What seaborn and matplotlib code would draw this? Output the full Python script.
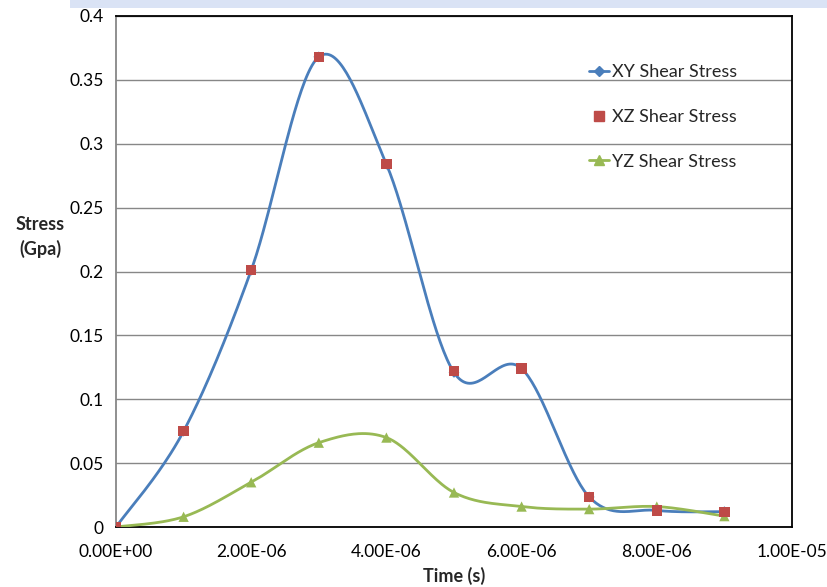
import numpy as np
import pandas as pd
import matplotlib
matplotlib.use("Agg")
import matplotlib.pyplot as plt
from matplotlib.lines import Line2D
from matplotlib.patches import Rectangle
from matplotlib.ticker import FuncFormatter, MultipleLocator
import seaborn as sns

# ---- data ----
time_s = [0.0, 1e-6, 2e-6, 3e-6, 4e-6, 5e-6, 6e-6, 7e-6, 8e-6, 9e-6]
xy_stress = [0.0, 0.075, 0.201, 0.368, 0.284, 0.121, 0.124, 0.0235, 0.013, 0.012]
xz_stress = [0.0, 0.075, 0.201, 0.368, 0.284, 0.122, 0.124, 0.0235, 0.013, 0.0115]
yz_stress = [0.0, 0.008, 0.035, 0.066, 0.070, 0.027, 0.016, 0.014, 0.016, 0.0085]
series_names = ["XY Shear Stress", "XZ Shear Stress", "YZ Shear Stress"]
colors = {"XY Shear Stress": "#4A7EBB", "XZ Shear Stress": "#BE4B48", "YZ Shear Stress": "#98B954"}


def smooth(xs, ys, n=40):
    """Excel-like smoothed line (Catmull-Rom Bezier) through the data points."""
    x = np.asarray(xs, float) * 1e6
    y = np.asarray(ys, float) * 10
    px = np.concatenate([[x[0]], x, [x[-1]]])
    py = np.concatenate([[y[0]], y, [y[-1]]])
    outx, outy = [], []
    t = np.linspace(0, 1, n)
    for i in range(1, len(px) - 2):
        p0 = np.array([px[i], py[i]])
        p3 = np.array([px[i + 1], py[i + 1]])
        c1 = p0 + (np.array([px[i + 1], py[i + 1]]) - np.array([px[i - 1], py[i - 1]])) / 6
        c2 = p3 - (np.array([px[i + 2], py[i + 2]]) - np.array([px[i], py[i]])) / 6
        b = ((1 - t) ** 3)[:, None] * p0 + (3 * (1 - t) ** 2 * t)[:, None] * c1 \
            + (3 * (1 - t) * t ** 2)[:, None] * c2 + (t ** 3)[:, None] * p3
        outx.extend(b[:, 0]); outy.extend(b[:, 1])
    return np.array(outx) / 1e6, np.array(outy) / 10


sns.set_style("white")
plt.rcParams["font.family"] = ["Lato", "DejaVu Sans"]

fig = plt.figure(figsize=(8.27, 5.87), dpi=100)
fig.add_artist(Rectangle((70 / 827, 1 - 8 / 587), 1, 8 / 587, transform=fig.transFigure,
                         color="#DAE3F5", lw=0, zorder=0))
ax = fig.add_axes([116 / 827, 1 - 527 / 587, (792 - 116) / 827, (527 - 16) / 587])

# smooth curves
sx, sy = smooth(time_s, xy_stress)
sns.lineplot(x=sx, y=sy, ax=ax, color=colors["XY Shear Stress"], lw=2, sort=False,
             estimator=None, zorder=3)
gx, gy = smooth(time_s, yz_stress)
sns.lineplot(x=gx, y=gy, ax=ax, color=colors["YZ Shear Stress"], lw=2, sort=False,
             estimator=None, zorder=3)

# markers
sns.scatterplot(x=time_s, y=xy_stress, ax=ax, marker="D", s=30, color=colors["XY Shear Stress"],
                edgecolor="none", zorder=4)
sns.scatterplot(x=time_s, y=yz_stress, ax=ax, marker="^", s=55, color=colors["YZ Shear Stress"],
                edgecolor="none", zorder=4)
sns.scatterplot(x=time_s, y=xz_stress, ax=ax, marker="s", s=55, color=colors["XZ Shear Stress"],
                edgecolor="none", zorder=5)

ax.set_xlim(0, 1e-5)
ax.set_ylim(0, 0.4)
ax.xaxis.set_major_locator(MultipleLocator(2e-6))
ax.yaxis.set_major_locator(MultipleLocator(0.05))
ax.xaxis.set_major_formatter(FuncFormatter(lambda v, p: f"{v:.2E}"))
ax.yaxis.set_major_formatter(FuncFormatter(lambda v, p: f"{round(v, 2):g}"))
ax.grid(axis="y", color="#878787", lw=1)
ax.set_axisbelow(True)
for side in ["top", "right", "bottom"]:
    ax.spines[side].set_color("black")
    ax.spines[side].set_linewidth(1.3)
ax.spines["left"].set_color("#878787")
ax.spines["left"].set_linewidth(1.3)
ax.tick_params(axis="both", which="major", length=5, width=1, color="#878787",
               direction="out", labelsize=12.5, labelcolor="black", pad=4)
ax.tick_params(axis="x", pad=7)

ax.set_xlabel("Time (s)", fontsize=13, fontweight="bold", labelpad=5)
ax.set_ylabel("")
fig.text(40 / 827, 1 - 237 / 587, "Stress\n(Gpa)", fontsize=13, fontweight="bold",
         ha="center", va="center", linespacing=1.5)

handles = [
    Line2D([], [], color=colors["XY Shear Stress"], lw=2, marker="D", markersize=5),
    Line2D([], [], color=colors["XZ Shear Stress"], lw=0, marker="s", markersize=7),
    Line2D([], [], color=colors["YZ Shear Stress"], lw=2, marker="^", markersize=7),
]
leg = ax.legend(handles, series_names, loc="upper left", bbox_to_anchor=(580 / 827, 1 - 55 / 587),
                bbox_transform=fig.transFigure, frameon=False, fontsize=13, handlelength=1.1,
                handletextpad=0.15, labelspacing=1.6, borderpad=0)

fig.savefig("out.png", dpi=100)
